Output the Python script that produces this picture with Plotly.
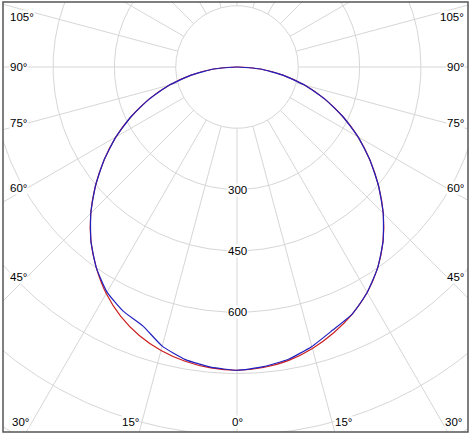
import numpy as np
import plotly.graph_objects as go

# ---- data (photometric intensity values) ----
gamma = [0, 5, 10, 15, 20, 25, 30, 35, 40, 45, 50, 55, 60, 65, 70, 75, 80, 85, 90]
red_left = [742, 739, 731, 718, 699, 673, 640, 600, 556, 506, 452, 397, 342, 285, 228, 171, 114, 57, 0]
red_right = [742, 738, 729, 713, 692, 667, 637, 600, 556, 506, 452, 397, 342, 285, 228, 171, 114, 57, 0]
blue_left = [742, 737, 727, 707, 674, 659, 636, 600, 556, 506, 452, 397, 342, 285, 228, 171, 114, 57, 0]
blue_right = [742, 736, 726, 708, 685, 667, 637, 600, 556, 506, 452, 397, 342, 285, 228, 171, 114, 57, 0]

grid_radii = [150, 300, 450, 600, 750, 900, 1050]
spoke_angles = list(range(0, 360, 15))
ring_labels = [300, 450, 600]
bottom_label_angles = [0, 15, 30]
side_label_angles = [45, 60, 75, 90, 105]

# ---- geometry ----
W, H = 471, 436
ML, MR, MT, MB = 3, 3, 2, 4
CX, CY = 237, 67          # pixel position of the pole
S = 0.4087                # px per unit
pw, ph = W - ML - MR, H - MT - MB
xr = [-(CX - ML) / S, (pw - (CX - ML)) / S]
yr = [-(ph - (CY - MT)) / S, (CY - MT) / S]

GRID = "#d6d6d6"
fig = go.Figure()

t = np.linspace(0, 2 * np.pi, 721)
for r in grid_radii:
    fig.add_trace(go.Scatter(x=r * np.cos(t), y=r * np.sin(t), mode="lines",
                             line=dict(color=GRID, width=1), hoverinfo="skip", showlegend=False))
for a in spoke_angles:
    ar = np.radians(a)
    rr = np.array([grid_radii[0], 1400])
    fig.add_trace(go.Scatter(x=rr * np.sin(ar), y=-rr * np.cos(ar), mode="lines",
                             line=dict(color=GRID, width=1), hoverinfo="skip", showlegend=False))


def curve(left, right):
    g = np.radians(np.array(gamma, dtype=float))
    l = np.array(left, dtype=float)
    r = np.array(right, dtype=float)
    xl, yl = -l * np.sin(g), -l * np.cos(g)
    xrt, yrt = r * np.sin(g), -r * np.cos(g)
    x = np.concatenate([xl[::-1], xrt[1:]])
    y = np.concatenate([yl[::-1], yrt[1:]])
    return x, y


x, y = curve(red_left, red_right)
fig.add_trace(go.Scatter(x=x, y=y, mode="lines",
                         line=dict(color="#cc2020", width=1.2, shape="spline", smoothing=0.8),
                         showlegend=False, name="C0-C180"))
x, y = curve(blue_left, blue_right)
fig.add_trace(go.Scatter(x=x, y=y, mode="lines",
                         line=dict(color="#2020c0", width=1.2, shape="spline", smoothing=0.5),
                         showlegend=False, name="C90-C270"))

FONT = dict(family="Liberation Sans, Arial, sans-serif", size=11.5, color="#000000")
ann = []
for v in ring_labels:
    ann.append(dict(x=0, y=-v, text=str(v), showarrow=False, bgcolor="white", borderpad=0,
                    font=FONT, xanchor="center", yanchor="middle"))

ybot = -(422 - CY) / S
for a in bottom_label_angles:
    if a == 0:
        ann.append(dict(x=0, y=ybot, text="0°", showarrow=False, bgcolor="white", borderpad=0,
                        font=FONT, xanchor="center", yanchor="middle"))
        continue
    xx = -ybot * np.tan(np.radians(a))
    ann.append(dict(x=-xx, y=ybot, text=f"{a}°", showarrow=False, bgcolor="white", borderpad=0,
                    font=FONT, xanchor="right", yanchor="middle", xshift=-2))
    ann.append(dict(x=xx, y=ybot, text=f"{a}°", showarrow=False, bgcolor="white", borderpad=0,
                    font=FONT, xanchor="left", yanchor="middle", xshift=2))

dx_lab = 210 / S
ytop = (CY - 17) / S
xleft = (9 - CX) / S
xright = (465 - CX) / S
for a in side_label_angles:
    if a == 90:
        yy = 0.0
    else:
        yy = -dx_lab / np.tan(np.radians(a))
    yy = min(yy, ytop)
    ann.append(dict(x=xleft, y=yy, text=f"{a}°", showarrow=False, bgcolor="white", borderpad=0,
                    font=FONT, xanchor="left", yanchor="middle"))
    ann.append(dict(x=xright, y=yy, text=f"{a}°", showarrow=False, bgcolor="white", borderpad=0,
                    font=FONT, xanchor="right", yanchor="middle"))

fig.update_layout(
    width=W, height=H,
    margin=dict(l=ML, r=MR, t=MT, b=MB),
    paper_bgcolor="white", plot_bgcolor="white",
    xaxis=dict(range=xr, visible=False, fixedrange=True),
    yaxis=dict(range=yr, visible=False, fixedrange=True),
    annotations=ann,
    shapes=[dict(type="rect", xref="paper", yref="paper", x0=0, y0=0, x1=1, y1=1,
                 line=dict(color="#555555", width=1.5), layer="above")],
    showlegend=False,
)
fig.write_html("out.html", config={"displayModeBar": False},
               post_script="document.body.style.margin='0';document.body.style.overflow='hidden';")
